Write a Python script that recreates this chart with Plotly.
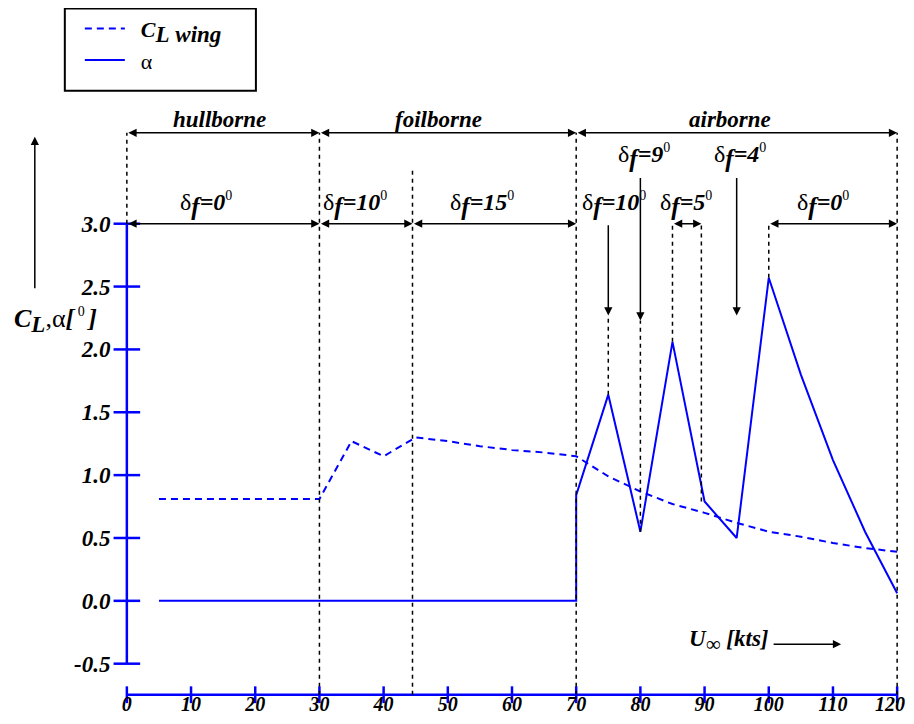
import plotly.graph_objects as go

# ---------------- data ----------------
speed_cl = [5, 30, 35, 40, 45, 50, 55, 60, 65, 70, 75, 80, 85, 90, 95, 100, 105, 110, 115, 120]
cl_wing = [0.81, 0.81, 1.27, 1.15, 1.30, 1.27, 1.23, 1.20, 1.18, 1.15, 0.99, 0.87, 0.77, 0.70, 0.62,
           0.55, 0.51, 0.46, 0.42, 0.39]
speed_alpha = [5, 70, 70, 75, 80, 85, 90, 95, 100, 105, 110, 115, 120]
alpha = [0.0, 0.0, 0.84, 1.64, 0.55, 2.06, 0.79, 0.50, 2.57, 1.80, 1.12, 0.55, 0.06]

x_ticks = list(range(0, 121, 10))
x_tick_labels = [str(v) for v in x_ticks]
y_ticks = [-0.5, 0.0, 0.5, 1.0, 1.5, 2.0, 2.5, 3.0]
y_tick_labels = ["-0.5", "0.0", "0.5", "1.0", "1.5", "2.0", "2.5", "3.0"]

regime_names = ["hullborne", "foilborne", "airborne"]
regime_bounds = [0, 30, 70, 120]
regime_label_x = [14.5, 48.5, 94.0]

flap_deg = ["0", "10", "15", "10", "9", "5", "4", "0"]
flap_label_x = [12.3, 35.6, 55.3, 75.9, 80.5, 87.1, 95.5, 108.5]
flap_label_row = [0, 0, 0, 0, 1, 0, 1, 0]
flap_spans = [(0, 30), (30, 44.5), (44.5, 70), (85, 89.5), (100, 120)]
pointer_x = [75, 80, 95]
pointer_top = [3.0, 3.376, 3.376]
pointer_tip = [2.27, 2.23, 2.27]

XAX_Y = -0.747          # value where the detached x axis is drawn
REGIME_Y = 3.723
FLAP_Y = 3.0
guide_x = [0, 30, 44.5, 70, 120, 75, 80, 85, 89.5, 100]
guide_top = [REGIME_Y, REGIME_Y, 3.429, REGIME_Y, REGIME_Y, 2.27, 2.23, FLAP_Y, FLAP_Y, FLAP_Y]
guide_bottom = [FLAP_Y, XAX_Y, XAX_Y, XAX_Y, XAX_Y, 1.64, 0.55, 2.06, 0.79, 2.57]

# ---------------- layout geometry ----------------
OFF = 8                       # page body margin of the html page
W, H = 914 - 2 * OFF, 724 - 2 * OFF
X0, X1 = -0.6, 120.6
Y0, Y1 = -0.765, 4.0
PXX = 770 / 120.0
PXY = 125.6
L = (127 - OFF) - (0 - X0) * PXX
PW = (X1 - X0) * PXX
T = (600.7 - OFF) - Y1 * PXY
PH = (Y1 - Y0) * PXY
B = H - T - PH
R = W - L - PW

BLUE = "#0000ff"
FONT = "Liberation Serif"
TICK_FONT = dict(family=FONT, size=20, color="black")


def paper_x(px):
    return (px - OFF - L) / PW


def paper_y(py):
    return (T + PH - (py - OFF)) / PH


fig = go.Figure()

fig.add_trace(go.Scatter(
    x=speed_cl, y=cl_wing, mode="lines",
    name="&nbsp;&nbsp;<b><i>C</i></b><sub><b><i><span style='font-size:23px'>L</span></i></b></sub>"
         "<sub><b><i><span style='font-size:23px'> wing</span></i></b></sub>",
    line=dict(color=BLUE, width=2, dash="7px,5px")))
fig.add_trace(go.Scatter(
    x=speed_alpha, y=alpha, mode="lines", name="&nbsp;&nbsp;α",
    line=dict(color=BLUE, width=2)))

# axis lines and crossing ticks
fig.add_trace(go.Scatter(x=[0, 0], y=[y_ticks[0], y_ticks[-1]], mode="lines",
                         line=dict(color=BLUE, width=2.5), showlegend=False, hoverinfo="skip"))
fig.add_trace(go.Scatter(x=[x_ticks[0], x_ticks[-1]], y=[XAX_Y, XAX_Y], mode="lines",
                         line=dict(color=BLUE, width=2.5), showlegend=False, hoverinfo="skip"))
fig.add_trace(go.Scatter(x=[0] * len(y_ticks), y=y_ticks, mode="markers", cliponaxis=False,
                         marker=dict(symbol="line-ew", size=19, line=dict(color=BLUE, width=2.5)),
                         showlegend=False, hoverinfo="skip"))
fig.add_trace(go.Scatter(x=x_ticks, y=[XAX_Y] * len(x_ticks), mode="markers", cliponaxis=False,
                         marker=dict(symbol="line-ns", size=12, line=dict(color=BLUE, width=2.5)),
                         showlegend=False, hoverinfo="skip"))

shapes = []
for gx, gt, gb in zip(guide_x, guide_top, guide_bottom):
    shapes.append(dict(type="line", xref="x", yref="y", x0=gx, x1=gx, y0=gb, y1=gt,
                       line=dict(color="black", width=1.5, dash="4px,4px")))
# legend frame
shapes.append(dict(type="rect", xref="paper", yref="paper",
                   x0=paper_x(65), x1=paper_x(256), y0=paper_y(91), y1=paper_y(9),
                   line=dict(color="black", width=2), fillcolor="rgba(0,0,0,0)"))

ann = []
arrow_common = dict(xref="x", yref="y", axref="x", ayref="y", text="", showarrow=True,
                    arrowhead=2, arrowsize=1.1, arrowwidth=1.5, arrowcolor="black",
                    standoff=0, startstandoff=0)
# regime arrows
for i, name in enumerate(regime_names):
    a, b = regime_bounds[i], regime_bounds[i + 1]
    ann.append(dict(x=b, y=REGIME_Y, ax=a, ay=REGIME_Y, arrowside="end+start", **arrow_common))
    ann.append(dict(x=regime_label_x[i], y=REGIME_Y, xref="x", yref="y", yanchor="bottom",
                    xanchor="center", text="<b><i>%s</i></b>" % name, showarrow=False, yshift=-1,
                    font=dict(family=FONT, size=23, color="black")))
# flap span arrows
for a, b in flap_spans:
    ann.append(dict(x=b, y=FLAP_Y, ax=a, ay=FLAP_Y, arrowside="end+start", **arrow_common))
# pointer arrows
for px_, pt, ptip in zip(pointer_x, pointer_top, pointer_tip):
    ann.append(dict(x=px_, y=ptip, ax=px_, ay=pt, **arrow_common))
# flap labels
for d, lx, row in zip(flap_deg, flap_label_x, flap_label_row):
    ly = FLAP_Y if row == 0 else 3.376
    ann.append(dict(x=lx, y=ly, xref="x", yref="y", yanchor="bottom", xanchor="center",
                    showarrow=False,
                    text="δ<sub><b><i><span style='font-size:25px'>f</span></i></b></sub>"
                         "<b><i>=%s</i></b><sup><span style='font-size:14px'>0</span></sup>" % d,
                    yshift=2, font=dict(family=FONT, size=24, color="black")))

# last x tick label, pulled inside the page edge
ann.append(dict(xref="paper", yref="paper", x=paper_x(906), y=paper_y(703.5), xanchor="right",
                yanchor="middle", showarrow=False, text="<b><i>%s</i></b>" % x_tick_labels[-1],
                font=TICK_FONT, borderpad=0))

# y-axis title and arrow
ann.append(dict(xref="paper", yref="paper", x=paper_x(35), y=paper_y(137), ax=0, ay=153,
                text="", showarrow=True, arrowhead=2, arrowsize=1.1, arrowwidth=1.5,
                arrowcolor="black", standoff=0, startstandoff=0))
ann.append(dict(xref="paper", yref="paper", x=paper_x(56), y=paper_y(321), showarrow=False,
                xanchor="center", yanchor="middle",
                text="<b><i>C</i></b><sub><b><i><span style='font-size:23px'>L</span></i></b></sub>,α"
                     "<b><i>[</i></b><sup><span style='font-size:14px'>&nbsp;0&nbsp;</span></sup>"
                     "<b><i>]</i></b>",
                font=dict(family=FONT, size=26, color="black")))
# x-axis title and arrow
ann.append(dict(xref="paper", yref="paper", x=paper_x(729), y=paper_y(641), showarrow=False,
                xanchor="center", yanchor="middle",
                text="<b><i>U</i></b><sub><span style='font-size:21px'>∞</span></sub>"
                     "<b><i>&nbsp;[kts]</i></b>",
                font=dict(family=FONT, size=23, color="black")))
ann.append(dict(xref="paper", yref="paper", x=paper_x(841), y=paper_y(644), ax=-69, ay=0,
                text="", showarrow=True, arrowhead=2, arrowsize=1.1, arrowwidth=1.5,
                arrowcolor="black", standoff=0, startstandoff=0))

fig.update_layout(
    width=W, height=H, autosize=False,
    margin=dict(l=L, r=R, t=T, b=B, pad=0, autoexpand=False),
    plot_bgcolor="white", paper_bgcolor="white",
    font=dict(family=FONT, size=22, color="black"),
    shapes=shapes, annotations=ann,
    showlegend=True,
    legend=dict(x=paper_x(80), y=paper_y(8), xanchor="left", yanchor="top",
                borderwidth=0, bgcolor="rgba(0,0,0,0)",
                font=dict(family=FONT, size=22, color="black"),
                tracegroupgap=0, itemwidth=40),
    xaxis=dict(range=[X0, X1], showgrid=False, zeroline=False, showline=False,
               automargin=False, ticklabeloverflow="allow",
               tickvals=x_ticks[:-1],
               ticktext=["<b><i>%s</i></b>" % s for s in x_tick_labels[:-1]],
               ticks="", ticklabelstandoff=-7, tickfont=TICK_FONT),
    yaxis=dict(range=[Y0, Y1], showgrid=False, zeroline=False, showline=False,
               automargin=False, ticklabeloverflow="allow",
               tickvals=y_ticks, ticktext=["<b><i>%s</i></b>" % s for s in y_tick_labels],
               ticks="outside", ticklen=7, tickcolor="rgba(0,0,0,0)",
               tickfont=dict(family=FONT, size=23, color="black")),
)

fig.write_html("out.html")
